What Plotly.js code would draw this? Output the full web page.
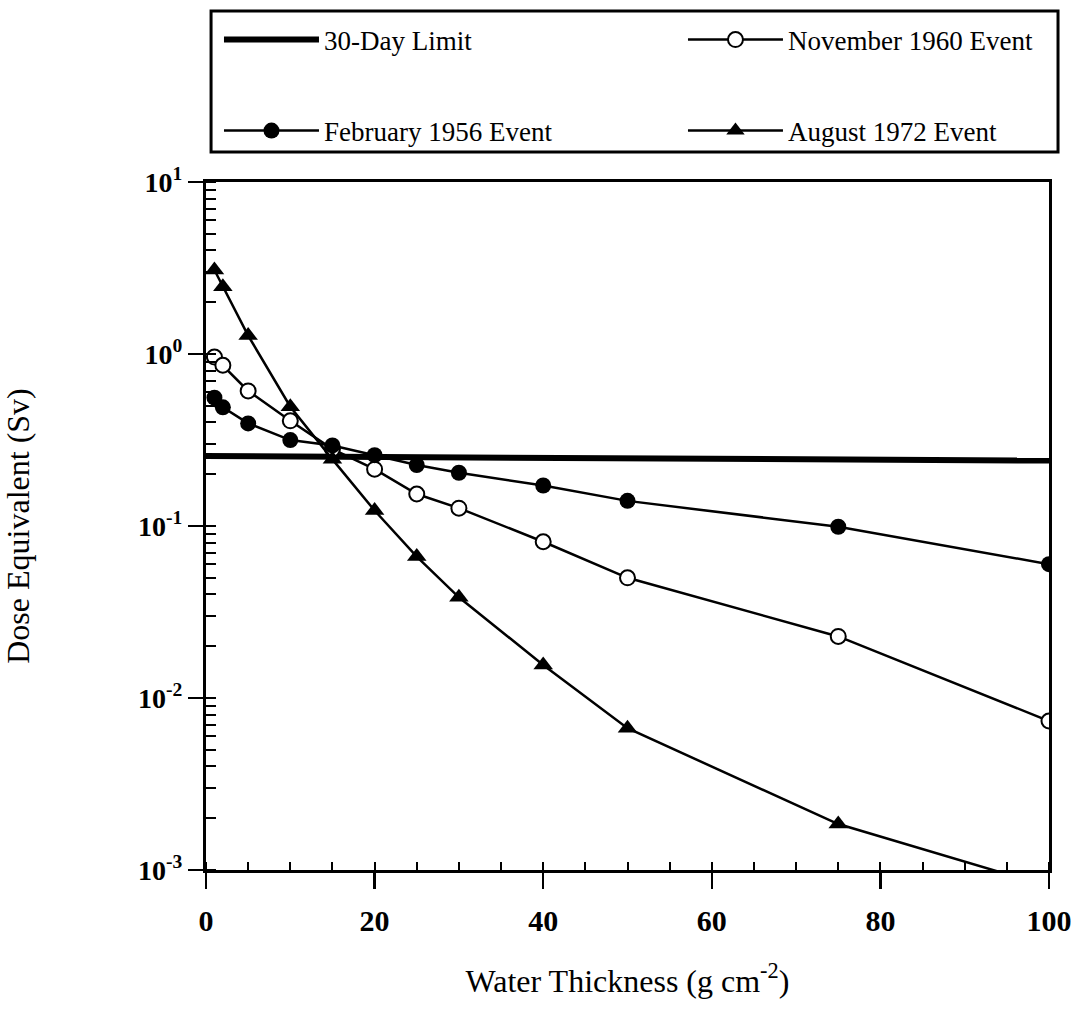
<!DOCTYPE html>
<html>
<head>
<meta charset="utf-8">
<script src="https://cdn.plot.ly/plotly-3.0.1.min.js"></script>
<style>html,body{margin:0;padding:0;background:#fff;}#chart{width:1089px;height:1013px;}</style>
</head>
<body>
<div id="chart"></div>
<script>
// Water thickness (g cm^-2)
const thickness = [1, 2, 5, 10, 15, 20, 25, 30, 40, 50, 75, 100];
// Dose equivalent (Sv)
const feb1956 = [0.557, 0.49, 0.395, 0.316, 0.294, 0.258, 0.226, 0.204, 0.172, 0.140, 0.099, 0.060];
const nov1960 = [0.96, 0.86, 0.61, 0.409, 0.28, 0.214, 0.1535, 0.127, 0.081, 0.050, 0.0228, 0.00735];
const aug1972 = [3.08, 2.46, 1.28, 0.494, 0.244, 0.123, 0.0664, 0.0385, 0.01556, 0.00667, 0.00185, 0.0008];
const limitX = [0, 100];
const limitY = [0.255, 0.24];

const yTickVals = [0.001, 0.01, 0.1, 1, 10];
const yTickText = ['10<sup>-3</sup>', '10<sup>-2</sup>', '10<sup>-1</sup>', '10<sup>0</sup>', '10<sup>1</sup>'];
const xTickVals = [0, 20, 40, 60, 80, 100];
const xTickText = ['0', '20', '40', '60', '80', '100'];

const serif = 'Liberation Serif, Times New Roman, serif';

const traces = [
  {
    x: limitX, y: limitY, name: '30-Day Limit', mode: 'lines',
    line: {color: 'black', width: 6}, legend: 'legend'
  },
  {
    x: thickness, y: nov1960, name: 'November 1960 Event', mode: 'lines+markers',
    line: {color: 'black', width: 2.5},
    marker: {symbol: 'circle', size: 15, color: 'white', line: {color: 'black', width: 2}},
    legend: 'legend2'
  },
  {
    x: thickness, y: feb1956, name: 'February 1956 Event', mode: 'lines+markers',
    line: {color: 'black', width: 2.5},
    marker: {symbol: 'circle', size: 16, color: 'black'},
    legend: 'legend3'
  },
  {
    x: thickness, y: aug1972, name: 'August 1972 Event', mode: 'lines+markers',
    line: {color: 'black', width: 2.5},
    marker: {symbol: 'triangle-up', size: 17, color: 'black'},
    legend: 'legend4'
  }
];

function legendAt(x, y) {
  return {
    orientation: 'h', xanchor: 'left', yanchor: 'middle', x: x, y: y,
    font: {family: serif, size: 27, color: 'black'},
    bgcolor: 'rgba(0,0,0,0)', borderwidth: 0,
    itemwidth: 95, itemclick: false
  };
}

const layout = {
  width: 1089, height: 1013,
  margin: {l: 206, r: 40, t: 182, b: 143},
  paper_bgcolor: 'white', plot_bgcolor: 'white',
  font: {family: serif, color: 'black'},
  showlegend: true,
  legend: legendAt(0.0154, 1.2064),
  legend2: legendAt(0.5658, 1.2064),
  legend3: legendAt(0.0154, 1.0741),
  legend4: legendAt(0.5658, 1.0741),
  xaxis: {
    type: 'linear', range: [0, 100],
    tickmode: 'array', tickvals: xTickVals, ticktext: xTickText,
    ticks: 'outside', ticklen: 16, tickwidth: 2.5, tickcolor: 'black',
    minor: {ticks: 'inside', ticklen: 8, tickwidth: 2, dtick: 5, tickcolor: 'black', showgrid: false},
    showline: true, linewidth: 3, linecolor: 'black', mirror: true,
    showgrid: false, zeroline: false,
    tickfont: {family: serif, size: 30, weight: 'bold', color: 'black'},
    ticklabelstandoff: 6,
    title: {text: 'Water Thickness (g cm<sup>-2</sup>)', font: {family: serif, size: 32, color: 'black'}, standoff: 34}
  },
  xaxis2: {
    overlaying: 'x', anchor: 'y', side: 'bottom', range: [0, 100],
    tickmode: 'array', tickvals: xTickVals, showticklabels: false,
    ticks: 'inside', ticklen: 13, tickwidth: 2.5, tickcolor: 'black',
    showline: false, showgrid: false, zeroline: false
  },
  yaxis: {
    type: 'log', range: [-3, 1],
    tickmode: 'array', tickvals: yTickVals, ticktext: yTickText,
    ticks: 'outside', ticklen: 15, tickwidth: 2.5, tickcolor: 'black',
    minor: {ticks: 'inside', ticklen: 10, tickwidth: 2, dtick: 'D1', tickcolor: 'black', showgrid: false},
    showline: true, linewidth: 3, linecolor: 'black', mirror: true,
    showgrid: false, zeroline: false,
    tickfont: {family: serif, size: 28, weight: 'bold', color: 'black'},
    title: {text: 'Dose Equivalent (Sv)', font: {family: serif, size: 32, color: 'black'}, standoff: 108}
  },
  yaxis2: {
    overlaying: 'y', anchor: 'x', side: 'left', type: 'log', range: [-3, 1],
    tickmode: 'array', tickvals: yTickVals, showticklabels: false,
    ticks: 'inside', ticklen: 18, tickwidth: 2.5, tickcolor: 'black',
    showline: false, showgrid: false, zeroline: false
  },
  shapes: [
    {type: 'rect', xref: 'paper', yref: 'paper', x0: 0.006, x1: 1.0107, y0: 1.0436, y1: 1.2485,
     line: {color: 'black', width: 3}, fillcolor: 'rgba(0,0,0,0)'}
  ]
};

Plotly.newPlot('chart', traces, layout, {staticPlot: true, displayModeBar: false});
</script>
</body>
</html>
